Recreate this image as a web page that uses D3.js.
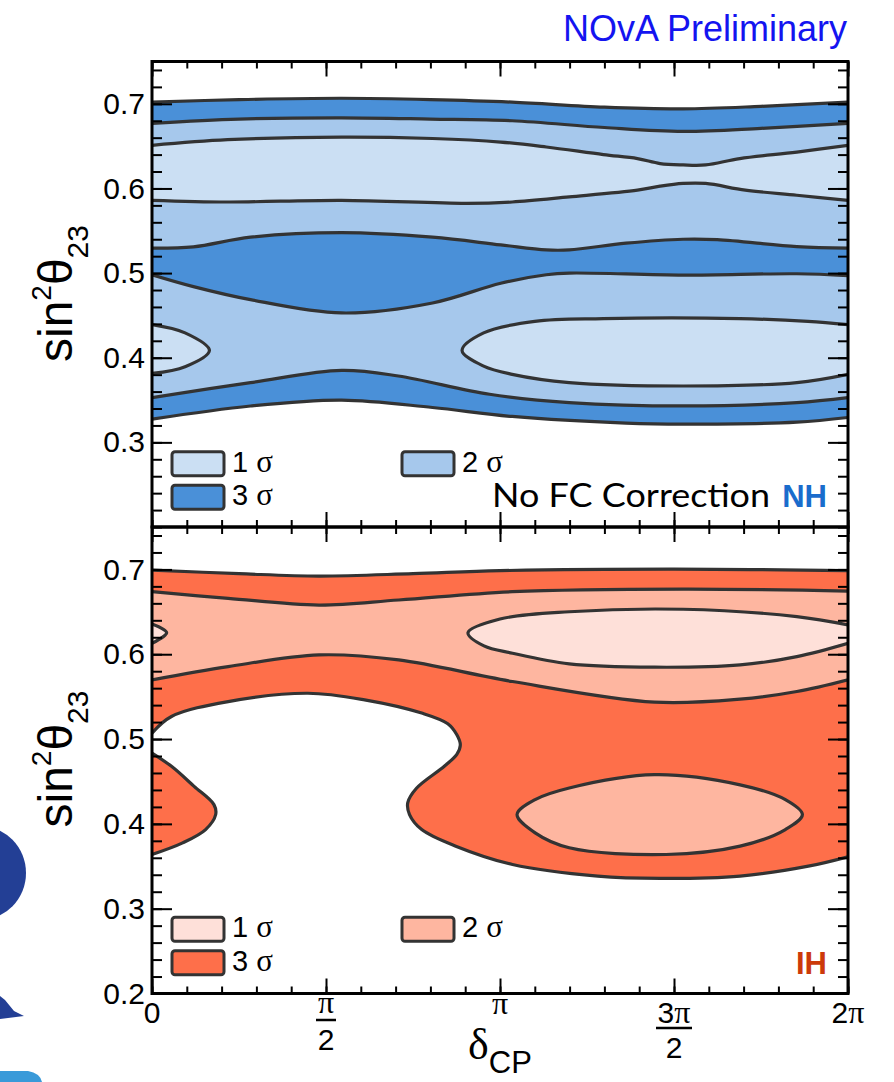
<!DOCTYPE html>
<html>
<head>
<meta charset="utf-8">
<script src="https://cdn.jsdelivr.net/npm/d3@7"></script>
<style>
  body { margin: 0; background: #fff; }
</style>
</head>
<body>
<div id="chart"></div>
<script>
// all contours: [deltaCP in units of pi, sin^2 theta23]

// ---- NH (top panel) ----
const nhUpper3 = [[0,0.702],[0.25,0.705],[0.545,0.7066],[0.8,0.705],[1.035,0.702],[1.3,0.696],[1.526,0.694],[1.75,0.697],[2,0.702]]
const nhUpper2 = [[0,0.677],[0.25,0.682],[0.545,0.6835],[0.8,0.682],[1.035,0.680],[1.3,0.672],[1.526,0.6674],[1.75,0.671],[2,0.677]]
const nhUpper1 = [[0,0.651],[0.217,0.6576],[0.545,0.6607],[0.806,0.659],[1.002,0.6548],[1.133,0.649],[1.297,0.640],[1.395,0.6353],[1.46,0.6294],[1.526,0.6278],[1.591,0.6278],[1.689,0.6353],[1.853,0.643],[2,0.651]]
const nhLower1 = [[0,0.586],[0.217,0.584],[0.545,0.586],[0.904,0.5824],[1.035,0.584],[1.199,0.590],[1.395,0.598],[1.46,0.6027],[1.526,0.6059],[1.591,0.6059],[1.705,0.598],[1.853,0.592],[2,0.586]]
const nhMid2a = [[0,0.5294],[0.119,0.531],[0.283,0.5424],[0.545,0.5478],[0.806,0.5424],[1.002,0.5333],[1.133,0.5274],[1.199,0.5274],[1.362,0.5353],[1.526,0.540],[1.624,0.5395],[1.853,0.5313],[2,0.5294]]
const nhMid2b = [[0,0.498],[0.119,0.484],[0.283,0.4686],[0.545,0.4529],[0.806,0.4647],[1.002,0.488],[1.133,0.498],[1.199,0.500],[1.526,0.4976],[1.853,0.4992],[2,0.4969]]
const nhIsland1L = [[0,0.4392],[0.095,0.4294],[0.165,0.4086],[0.095,0.3894],[0,0.3815]]
const nhIsland1R = [[2,0.4392],[1.885,0.443],[1.689,0.4462],[1.297,0.4462],[1.10,0.443],[0.953,0.4294],[0.891,0.4086],[0.953,0.3901],[1.035,0.3804],[1.199,0.3706],[1.526,0.3666],[1.853,0.3706],[2,0.3804]]
const nhLower2 = [[0,0.3529],[0.283,0.3706],[0.545,0.385],[0.708,0.3784],[0.97,0.3568],[1.199,0.347],[1.526,0.343],[1.853,0.347],[2,0.3529]]
const nhLower3 = [[0,0.3274],[0.283,0.343],[0.545,0.350],[0.806,0.3412],[1.035,0.3306],[1.362,0.3227],[1.526,0.3215],[1.853,0.3239],[2,0.3294]]

// ---- IH (bottom panel) ----
const ihUpper3 = [[0,0.6992],[0.25,0.695],[0.48,0.6921],[0.75,0.695],[1.0,0.6985],[1.5,0.7004],[2,0.6984]]
const ihUpper2 = [[0,0.6737],[0.219,0.6659],[0.48,0.658],[0.709,0.6639],[1.036,0.6737],[1.526,0.6768],[2,0.6745]]
const ihIsland1R = [[2,0.6345],[1.853,0.6443],[1.526,0.653],[1.199,0.6501],[1.0,0.6415],[0.908,0.6254],[0.954,0.6098],[1.036,0.6012],[1.199,0.5886],[1.444,0.5847],[1.69,0.5874],[1.853,0.5972],[2,0.6129]]
const ihIsland1L = [[0,0.6357],[0.042,0.6254],[0,0.6129]]
const ihLower2 = [[0,0.5698],[0.219,0.5854],[0.48,0.5992],[0.709,0.5933],[1.036,0.5678],[1.444,0.5435],[1.69,0.547],[1.853,0.556],[2,0.5698]]
const ihEdge3 = [[2,0.3612],[1.886,0.3501],[1.69,0.3384],[1.461,0.3357],[1.281,0.3384],[1.036,0.3521],[0.873,0.3737],[0.775,0.3933],[0.74,0.411],[0.735,0.425],[0.76,0.442],[0.84,0.468],[0.876,0.482],[0.886,0.493],[0.876,0.505],[0.85,0.518],[0.775,0.5306],[0.611,0.5462],[0.448,0.554],[0.219,0.5442],[0.056,0.5266],[0,0.507]]
const ihLobe3L = [[0,0.4835],[0.056,0.4678],[0.121,0.4442],[0.178,0.4227],[0.183,0.411],[0.154,0.3933],[0.088,0.3776],[0,0.3639]]
const ihIsland2R = [[1.049,0.411],[1.101,0.4286],[1.199,0.4423],[1.444,0.458],[1.69,0.446],[1.82,0.4286],[1.869,0.411],[1.82,0.3933],[1.69,0.3737],[1.477,0.3639],[1.199,0.3718],[1.101,0.3894]]

// ---- colours, labels, ticks ----
const nhColors = ["#cbdff3", "#a6c8ec", "#4a90d8"]
const ihColors = ["#fee0d9", "#feb6a0", "#fe6f4a"]
const sigmaNums = ["1", "2", "3"]
const yMajorTop = [0.3, 0.4, 0.5, 0.6, 0.7]
const yMajorBottom = [0.2, 0.3, 0.4, 0.5, 0.6, 0.7]
const xMajor = [0, 0.5, 1, 1.5, 2]
const xTickNum = ["0", "π", "π", "3π", "2π"]
const xTickDen = ["", "2", "", "2", ""]

const W = 894, H = 1082
const left = 152, right = 848
const sans = "'Liberation Sans', Arial, Helvetica, sans-serif"
const serif = "'Liberation Serif', 'DejaVu Serif', serif"
const lineColor = "#333"

const svg = d3.select("#chart").append("svg")
  .attr("width", W).attr("height", H)
  .style("display", "block")

const x = d3.scaleLinear().domain([0, 2]).range([left, right])

const yMinor = d3.range(0.2, 0.7501, 0.02).map(d => +d.toFixed(2))
const xMinor = d3.range(0, 2.0001, 0.1).map(d => +d.toFixed(2))

function drawPanel(opt) {
  const y = d3.scaleLinear().domain([0.2, 0.75]).range([opt.y1, opt.y0])
  const g = svg.append("g")

  const clipId = "clip-" + opt.id
  svg.append("defs").append("clipPath").attr("id", clipId)
    .append("rect")
    .attr("x", left).attr("y", opt.y0)
    .attr("width", right - left).attr("height", opt.y1 - opt.y0)

  const line = d3.line()
    .x(d => x(d[0]))
    .y(d => y(d[1]))
    .curve(d3.curveCatmullRom.alpha(0.5))
  const closed = d3.line()
    .x(d => x(d[0]))
    .y(d => y(d[1]))
    .curve(d3.curveCatmullRomClosed.alpha(0.5))

  const band = (a, b) => line(a) + line(b.slice().reverse()).replace(/^M/, "L") + "Z"

  const plot = g.append("g").attr("clip-path", `url(#${clipId})`)

  opt.fills.forEach(f => {
    plot.append("path")
      .attr("d", f.d(line, closed, band))
      .attr("fill", f.color)
      .attr("stroke", "none")
  })

  opt.strokes.forEach(s => {
    plot.append("path")
      .attr("d", s.closed ? closed(s.pts) : line(s.pts))
      .attr("fill", "none")
      .attr("stroke", lineColor)
      .attr("stroke-width", 3.2)
      .attr("stroke-linejoin", "round")
  })

  // axes, ticks inside the frame
  const fmt = d3.format(".1f")
  const yl = g.append("g").attr("transform", `translate(${left},0)`)
    .call(d3.axisLeft(y).tickValues(opt.yMajor).tickSizeInner(-20).tickSizeOuter(0).tickPadding(7).tickFormat(fmt))
  yl.select(".domain").remove()
  yl.attr("font-size", 30).attr("font-family", sans)
  yl.selectAll("text").attr("fill", "#000")

  const ylm = g.append("g").attr("transform", `translate(${left},0)`)
    .call(d3.axisLeft(y).tickValues(yMinor).tickSizeInner(-10).tickSizeOuter(0).tickFormat(""))
  ylm.select(".domain").remove()

  const yr = g.append("g").attr("transform", `translate(${right},0)`)
    .call(d3.axisRight(y).tickValues([0.3, 0.4, 0.5, 0.6, 0.7]).tickSizeInner(-20).tickSizeOuter(0).tickFormat(""))
  yr.select(".domain").remove()
  const yrm = g.append("g").attr("transform", `translate(${right},0)`)
    .call(d3.axisRight(y).tickValues(yMinor).tickSizeInner(-10).tickSizeOuter(0).tickFormat(""))
  yrm.select(".domain").remove()

  const xb = g.append("g").attr("transform", `translate(0,${opt.y1})`)
    .call(d3.axisBottom(x).tickValues(xMajor).tickSizeInner(-15).tickSizeOuter(0).tickFormat(""))
  xb.select(".domain").remove()
  const xbm = g.append("g").attr("transform", `translate(0,${opt.y1})`)
    .call(d3.axisBottom(x).tickValues(xMinor).tickSizeInner(-7).tickSizeOuter(0).tickFormat(""))
  xbm.select(".domain").remove()
  const xt = g.append("g").attr("transform", `translate(0,${opt.y0})`)
    .call(d3.axisTop(x).tickValues(xMajor).tickSizeInner(-15).tickSizeOuter(0).tickFormat(""))
  xt.select(".domain").remove()
  const xtm = g.append("g").attr("transform", `translate(0,${opt.y0})`)
    .call(d3.axisTop(x).tickValues(xMinor).tickSizeInner(-7).tickSizeOuter(0).tickFormat(""))
  xtm.select(".domain").remove()

  g.selectAll(".tick line").attr("stroke", "#000").attr("stroke-width", 2)

  g.append("rect")
    .attr("x", left).attr("y", opt.y0)
    .attr("width", right - left).attr("height", opt.y1 - opt.y0)
    .attr("fill", "none").attr("stroke", "#000").attr("stroke-width", 3)

  // y title
  const cy = opt.y0 + 232
  const yt = g.append("text")
    .attr("transform", `translate(72,${cy}) rotate(-90)`)
    .attr("text-anchor", "middle")
    .attr("font-family", sans)
    .attr("font-size", 48)
    .attr("fill", "#000")
  yt.append("tspan").text("sin")
  yt.append("tspan").attr("font-size", 28).attr("dy", -21).text("2")
  yt.append("tspan").attr("dy", 21).text("θ")
  yt.append("tspan").attr("font-size", 30).attr("dy", 16).text("23")

  // legend
  const ly = opt.y0 + 390.2
  const legendPos = [[172, ly], [402, ly], [172, ly + 33.5]]
  const lg = g.append("g")
  legendPos.forEach((p, i) => {
    lg.append("rect")
      .attr("x", p[0]).attr("y", p[1])
      .attr("width", 52).attr("height", 24)
      .attr("rx", 3)
      .attr("fill", opt.colors[i])
      .attr("stroke", lineColor).attr("stroke-width", 3)
    const t = lg.append("text")
      .attr("x", p[0] + 60).attr("y", p[1] + 20)
      .attr("font-size", 29).attr("fill", "#000")
    t.append("tspan").attr("font-family", sans).text(sigmaNums[i] + " ")
    t.append("tspan").attr("font-family", serif).attr("font-size", 31).text("σ")
  })

  if (opt.note) {
    g.append("text")
      .attr("x", 492).attr("y", opt.y0 + 445)
      .attr("font-family", "Lato, 'Open Sans', sans-serif")
      .attr("font-size", 33)
      .attr("textLength", 278).attr("lengthAdjust", "spacingAndGlyphs")
      .attr("fill", "#000")
      .text(opt.note)
  }
  g.append("text")
    .attr("x", 827).attr("y", opt.tagY)
    .attr("text-anchor", "end")
    .attr("font-family", sans).attr("font-weight", "bold")
    .attr("font-size", 31)
    .attr("fill", opt.tagColor)
    .text(opt.tag)

  return y
}

drawPanel({
  id: "nh", y0: 61.5, y1: 527, yMajor: yMajorTop, colors: nhColors,
  note: "No FC Correction", tag: "NH", tagColor: "#1a6ccc", tagY: 507,
  fills: [
    { color: nhColors[2], d: (l, c, band) => band(nhUpper3, nhLower3) },
    { color: nhColors[1], d: (l, c, band) => band(nhUpper2, nhMid2a) },
    { color: nhColors[1], d: (l, c, band) => band(nhMid2b, nhLower2) },
    { color: nhColors[0], d: (l, c, band) => band(nhUpper1, nhLower1) },
    { color: nhColors[0], d: (l) => l(nhIsland1L) + "Z" },
    { color: nhColors[0], d: (l) => l(nhIsland1R) + "Z" }
  ],
  strokes: [nhUpper3, nhUpper2, nhUpper1, nhLower1, nhMid2a, nhMid2b, nhIsland1L, nhIsland1R, nhLower2, nhLower3].map(p => ({ pts: p }))
})

drawPanel({
  id: "ih", y0: 527, y1: 993.5, yMajor: yMajorBottom, colors: ihColors,
  note: null, tag: "IH", tagColor: "#cc3a0a", tagY: 974,
  fills: [
    { color: ihColors[2], d: (l) => l(ihUpper3) + l(ihEdge3).replace(/^M/, "L") + "Z" },
    { color: ihColors[1], d: (l, c, band) => band(ihUpper2, ihLower2) },
    { color: ihColors[0], d: (l) => l(ihIsland1R) + "Z" },
    { color: ihColors[0], d: (l) => l(ihIsland1L) + "Z" },
    { color: ihColors[1], d: (l, c) => c(ihIsland2R) },
    { color: ihColors[2], d: (l) => l(ihLobe3L) + "Z" }
  ],
  strokes: [
    { pts: ihUpper3 }, { pts: ihUpper2 }, { pts: ihIsland1R }, { pts: ihIsland1L },
    { pts: ihLower2 }, { pts: ihEdge3 }, { pts: ihLobe3L }, { pts: ihIsland2R, closed: true }
  ]
})

// x tick labels (bottom panel only)
const xl = svg.append("g").attr("fill", "#000")
xMajor.forEach((v, i) => {
  const cx = x(v)
  const frac = xTickDen[i] !== ""
  const numY = frac ? (v < 1 ? 1013 : 1023) : (xTickNum[i] === "π" ? 1014 : 1023)
  const t = xl.append("text")
    .attr("x", cx).attr("y", numY)
    .attr("text-anchor", "middle")
    .attr("font-size", 30)
  xTickNum[i].split("").forEach(ch => {
    t.append("tspan")
      .attr("font-family", ch === "π" ? serif : sans)
      .attr("font-size", ch === "π" ? 32 : 30)
      .text(ch)
  })
  if (frac) {
    const half = v < 1 ? 10 : 18
    const barY = v < 1 ? 1020 : 1028
    xl.append("line")
      .attr("x1", cx - half).attr("x2", cx + half)
      .attr("y1", barY).attr("y2", barY)
      .attr("stroke", "#000").attr("stroke-width", 2.5)
    xl.append("text")
      .attr("x", cx).attr("y", barY + 30)
      .attr("text-anchor", "middle")
      .attr("font-family", sans).attr("font-size", 30)
      .text(xTickDen[i])
  }
})

// x title
const xtitle = svg.append("text")
  .attr("x", 500).attr("y", 1059)
  .attr("text-anchor", "middle")
  .attr("fill", "#000")
xtitle.append("tspan").attr("font-family", serif).attr("font-size", 44).text("δ")
xtitle.append("tspan").attr("font-family", sans).attr("font-size", 31).attr("dy", 14).text("CP")

// title
svg.append("text")
  .attr("x", 847).attr("y", 41)
  .attr("text-anchor", "end")
  .attr("font-family", sans)
  .attr("font-size", 36)
  .attr("fill", "#1414f0")
  .text("NOvA Preliminary")

// slide scraps at the left edge
const scraps = svg.append("g")
scraps.append("ellipse").attr("cx", -20).attr("cy", 873).attr("rx", 46).attr("ry", 47).attr("fill", "#233f95")
scraps.append("path").attr("d", "M0,996 L5,1000 L14,1011 L24,1016 L0,1019 Z").attr("fill", "#233f95")
scraps.append("path").attr("d", "M0,1071 L28,1071 Q40,1073 42,1082 L0,1082 Z").attr("fill", "#3a9ad9")
</script>
</body>
</html>
